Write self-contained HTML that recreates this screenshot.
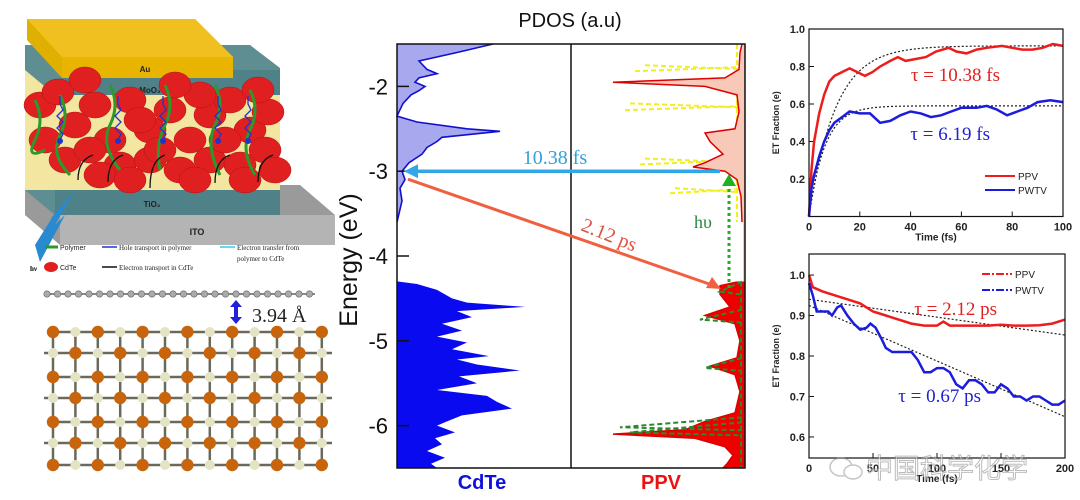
<!DOCTYPE html>
<html><head><meta charset="utf-8"><style>
body{margin:0;background:#fff;width:1080px;height:500px;overflow:hidden}
svg{display:block}
text{font-family:"Liberation Sans",sans-serif}
.serif{font-family:"Liberation Serif",serif}
</style></head><body>
<svg id="s" width="1080" height="500" viewBox="0 0 1080 500">
<g id="left">
 <polygon points="25,185 300,185 335,215 335,245 60,245 25,215" fill="#9a9a9a"/>
 <polygon points="60,215 335,215 335,245 60,245" fill="#b4b4b4"/>
 <text x="197" y="235" font-size="9" font-weight="bold" text-anchor="middle" fill="#222">ITO</text>
 <polygon points="25,160 250,160 280,185 280,215 55,215 25,190" fill="#5f8e92"/>
 <rect x="55" y="185" width="225" height="30" fill="#4f8288"/>
 <text x="152" y="207" font-size="8" font-weight="bold" text-anchor="middle" fill="#222">TiO₂</text>
 <polygon points="25,45 250,45 280,68 280,190 25,190" fill="#f2e6a0"/>
 <polygon points="25,45 250,45 280,68 280,95 55,95 25,70" fill="#5f8e92"/>
 <rect x="60" y="70" width="220" height="25" fill="#4f8288"/>
 <text x="150" y="93" font-size="8" font-weight="bold" text-anchor="middle" fill="#222">MoO₃</text>
 <polygon points="27,19 195,19 233,57 233,78 62,78 27,40" fill="#e0b000"/>
 <polygon points="27,19 195,19 233,57 62,57" fill="#f0c020"/>
 <rect x="62" y="57" width="171" height="21" fill="#e8b400"/>
 <text x="145" y="72" font-size="8" font-weight="bold" text-anchor="middle" fill="#222">Au</text>
 <g id="blobs"></g>
 <polygon points="35,245 60,205 50,220 75,190 55,225 65,215 40,262" fill="#2a8ad0"/>
 <text x="30" y="271" font-size="7" class="serif" font-weight="bold">hν</text>
 <line x1="45" y1="247" x2="58" y2="247" stroke="#2a9a2a" stroke-width="3"/>
 <text x="60" y="250" font-size="7" fill="#222">Polymer</text>
 <line x1="102" y1="247" x2="117" y2="247" stroke="#2233cc" stroke-width="1.5"/>
 <text x="119" y="250" font-size="7" class="serif" fill="#222">Hole transport in polymer</text>
 <line x1="220" y1="247" x2="235" y2="247" stroke="#33ccee" stroke-width="1.5"/>
 <text x="237" y="250" font-size="7" class="serif" fill="#222">Electron transfer from</text>
 <text x="237" y="261" font-size="7" class="serif" fill="#222">polymer to CdTe</text>
 <ellipse cx="51" cy="267" rx="7" ry="5" fill="#e02020"/>
 <text x="60" y="270" font-size="7" fill="#222">CdTe</text>
 <line x1="102" y1="267" x2="117" y2="267" stroke="#111" stroke-width="1.5"/>
 <text x="119" y="270" font-size="7" class="serif" fill="#222">Electron  transport in CdTe</text>
</g>
<g id="lattice"></g>
<line x1="45" y1="294" x2="315" y2="294" stroke="#888" stroke-width="2"/>
<g id="mol"></g>
<path d="M236,300 l-6,7 h4 v10 h-4 l6,7 l6,-7 h-4 v-10 h4z" fill="#2020dd"/>
<text x="252" y="322" font-size="20" class="serif" fill="#222">3.94 Å</text>

<g id="pdos"></g>
<g id="c1"></g>
<g id="c2"></g>
<g opacity="0.55">
 <ellipse cx="841" cy="467" rx="11" ry="9" fill="none" stroke="#999" stroke-width="1.5"/>
 <ellipse cx="853" cy="472" rx="9" ry="7" fill="#fff" stroke="#999" stroke-width="1.5"/>
 <text x="866" y="478" font-size="27" fill="#fff" stroke="#888" stroke-width="1" style='font-family:"Liberation Sans","Noto Sans CJK SC",sans-serif'>中国科学化学</text>
</g>
</svg>
<script>
const NS="http://www.w3.org/2000/svg";
function mk(p,t,a){const e=document.createElementNS(NS,t);for(const k in a)e.setAttribute(k,a[k]);p.appendChild(e);return e;}
// blobs
const blobG=document.getElementById('blobs');
[[40,105],[58,92],[75,125],[95,105],[110,140],[130,100],[150,130],[170,110],[190,140],[210,115],[230,100],[250,130],[268,112],[65,160],[90,150],[120,165],[150,160],[180,170],[210,160],[240,165],[265,150],[140,120],[200,95],[85,80],[175,85],[258,90],[45,140],[100,175],[160,150],[225,140],[275,170],[130,180],[195,180],[245,180]].forEach(p=>{mk(blobG,'ellipse',{cx:p[0],cy:p[1],rx:16,ry:13,fill:'#e02020',stroke:'#b01010','stroke-width':0.5});});
[[60,95,70,175],[110,85,120,170],[165,85,160,170],[215,85,220,175],[250,90,255,175],[35,100,45,150]].forEach(l=>{mk(blobG,'path',{d:`M${l[0]},${l[1]} q10,20 0,40 q-10,20 ${l[2]-l[0]},${l[3]-l[1]-40}`,fill:'none',stroke:'#2a9a2a','stroke-width':3});});
[60,118,163,218,248].forEach(x=>{mk(blobG,'path',{d:`M${x},140 l3,-6 l-6,-6 l6,-6 l-6,-6 l6,-6 l-3,-6 l0,-8`,fill:'none',stroke:'#2233cc','stroke-width':1.3});mk(blobG,'circle',{cx:x,cy:141,r:3,fill:'#2233cc'});});
[[78,180],[108,182],[150,188],[215,183],[258,182]].forEach(p=>{mk(blobG,'path',{d:`M${p[0]+15},155 q-15,5 ${-15},${p[1]-155}`,fill:'none',stroke:'#111','stroke-width':1.3});});
// lattice
const lat=document.getElementById('lattice');
const rowsY=[332,353,377,398,422,443,465];
for(let r=0;r<7;r++)mk(lat,'line',{x1:r%2?44:53,y1:rowsY[r],x2:r%2?332:322,y2:rowsY[r],stroke:'#6a6a5a','stroke-width':2.5});
for(let c=0;c<13;c++){const x=53+c*22.4;mk(lat,'line',{x1:x,y1:332,x2:x,y2:465,stroke:'#6a6a5a','stroke-width':2.5});}
for(let r=0;r<7;r++)for(let c=0;c<13;c++){const x=53+c*22.4;const orange=((r+c)%2===0);
 mk(lat,'circle',{cx:x,cy:rowsY[r],r:orange?6.2:5,fill:orange?'#c8650c':'#e4e4c4'});}
const mol=document.getElementById('mol');
for(let i=0;i<26;i++)mk(mol,'circle',{cx:47+i*10.5,cy:294,r:3.2,fill:'#aaa',stroke:'#666','stroke-width':0.6});

// ---------- PDOS ----------
const cdteTopE=[-1.5,-1.6,-1.7,-1.8,-1.85,-1.9,-1.95,-2.0,-2.05,-2.1,-2.2,-2.3,-2.35,-2.42,-2.5,-2.53,-2.6,-2.65,-2.72,-2.8,-2.9,-3.0,-3.1,-3.2,-3.35,-3.5,-3.6];
const cdteTopW=[96,60,22,30,40,22,18,28,22,14,6,2,0,20,70,103,45,40,30,25,12,5,8,3,5,2,0];
const cdteBotE=[-4.3,-4.33,-4.4,-4.5,-4.55,-4.6,-4.65,-4.72,-4.8,-4.88,-4.95,-5.02,-5.1,-5.18,-5.22,-5.28,-5.35,-5.42,-5.5,-5.58,-5.65,-5.72,-5.8,-5.88,-5.95,-6.0,-6.08,-6.15,-6.22,-6.3,-6.38,-6.45,-6.5];
const cdteBotW=[0,20,40,55,70,128,60,75,45,65,40,70,55,92,60,80,123,62,80,40,90,100,115,65,50,40,58,38,45,30,48,34,40];
const ppvE=[-1.5,-1.6,-1.8,-1.9,-1.95,-2.0,-2.1,-2.3,-2.5,-2.55,-2.65,-2.8,-2.9,-2.95,-3.0,-3.1,-3.3,-3.6,-4.3,-4.35,-4.45,-4.6,-4.7,-4.8,-5.0,-5.2,-5.3,-5.4,-5.6,-5.85,-5.95,-6.05,-6.1,-6.15,-6.25,-6.35,-6.45,-6.5];
const ppvW=[3,5,6,20,132,40,8,6,10,40,35,22,40,52,20,8,4,3,5,25,25,15,40,10,5,8,35,10,5,10,40,60,132,50,20,12,18,22];
const yelE=[-1.75,-1.82,-2.2,-2.28,-2.85,-2.92,-3.2,-3.26];
const yelW=[100,110,115,120,100,105,70,75];
const grnE=[-4.42,-4.75,-5.32,-6.02,-6.08];
const grnW=[25,45,40,125,115];
const pdosTicks=[-2,-3,-4,-5,-6];
(function(){
 const g=document.getElementById('pdos');
 const L=397,R=745,M=571,T=44,B=468,E0=-1.5,E1=-6.5;
 const Y=e=>T+(E0-e)/(E0-E1)*(B-T);
 const XL=w=>L+w, XR=w=>R-w;
 function path(E,W,X){return E.map((e,i)=>`${i?'L':'M'}${X(W[i]).toFixed(1)},${Y(e).toFixed(1)}`).join('');}
 const t=mk(g,'text',{x:570,y:27,'font-size':20,'text-anchor':'middle',fill:'#111'});t.textContent='PDOS (a.u)';
 
 let d=path(cdteTopE,cdteTopW,XL);
 mk(g,'path',{d:d+`L${L},${Y(cdteTopE[cdteTopE.length-1])}L${L},${T}Z`,fill:'#a8a8ee'});
 const cl=mk(g,'path',{d:d,fill:'none',stroke:'#1010d0','stroke-width':1.6});
 
 d=path(cdteBotE,cdteBotW,XL);
 const cb=mk(g,'path',{d:`M${L},${Y(cdteBotE[0])}`+d.replace('M','L')+`L${L},${B}Z`,fill:'#0a0af0'});
 
 yelE.forEach((e,i)=>{const l=mk(g,'line',{x1:XR(yelW[i]),y1:Y(e),x2:R-6,y2:Y(e)+(i%2?-4:4),stroke:'#f0f020','stroke-width':2,'stroke-dasharray':'5,3'});
  });
 mk(g,'line',{x1:R-8,y1:T,x2:R-8,y2:Y(-3.6),stroke:'#f0f020','stroke-width':2,'stroke-dasharray':'5,3'});
 d=path(ppvE,ppvW,XR);
 mk(g,'path',{d:`M${R},${T}`+d.replace('M','L')+`L${R},${B}Z`,fill:'#f8c8b8'});
 const vi=ppvE.findIndex(e=>e<=-4.3);
 const dv=path(ppvE.slice(vi),ppvW.slice(vi),XR);
 mk(g,'path',{d:`M${R},${Y(-4.3)}`+dv.replace('M','L')+`L${R},${B}Z`,fill:'#ee0000'});
 const pl=mk(g,'path',{d:d,fill:'none',stroke:'#dd0000','stroke-width':1.5});
 
 mk(g,'rect',{x:R-60,y:Y(-3.6),width:58,height:Y(-4.3)-Y(-3.6),fill:'#fff'});
 grnE.forEach((e,i)=>{const l=mk(g,'path',{d:`M${R-3},${Y(e)-10}L${XR(grnW[i])},${Y(e)}L${R-3},${Y(e)+3}`,fill:'none',stroke:'#2a8a2a','stroke-width':2,'stroke-dasharray':'5,3'});
  });
 mk(g,'line',{x1:R-4,y1:Y(-4.3),x2:R-4,y2:B,stroke:'#2a8a2a','stroke-width':2,'stroke-dasharray':'5,3'});
 mk(g,'rect',{x:L,y:T,width:R-L,height:B-T,fill:'none',stroke:'#111','stroke-width':1.5});
 mk(g,'line',{x1:M,y1:T,x2:M,y2:B,stroke:'#111','stroke-width':1.5});
 pdosTicks.forEach(v=>{mk(g,'line',{x1:L,y1:Y(v),x2:L+12,y2:Y(v),stroke:'#111','stroke-width':1.5});
  const tx=mk(g,'text',{x:388,y:Y(v)+8,'font-size':22,'text-anchor':'end',fill:'#111'});tx.textContent=v;
  });
 const yt=mk(g,'text',{x:0,y:0,'font-size':25,'text-anchor':'middle',fill:'#111',transform:'translate(357,260) rotate(-90)'});yt.textContent='Energy (eV)';
 
 const c1=mk(g,'text',{x:482,y:489,'font-size':20,'font-weight':'bold','text-anchor':'middle',fill:'#1010dd'});c1.textContent='CdTe';
 
 const c2=mk(g,'text',{x:661,y:489,'font-size':20,'font-weight':'bold','text-anchor':'middle',fill:'#ee1111'});c2.textContent='PPV';
 
 const ya=Y(-3.0);
 mk(g,'line',{x1:720,y1:ya,x2:412,y2:ya,stroke:'#30a8e8','stroke-width':3.5});
 mk(g,'path',{d:`M404,${ya}l14,-7v14z`,fill:'#30a8e8'});
 const a1=mk(g,'text',{x:555,y:ya-7,'font-size':20,'text-anchor':'middle',fill:'#30a0e0',class:'serif'});a1.textContent='10.38 fs';
 
 mk(g,'line',{x1:408,y1:ya+8,x2:712,y2:285,stroke:'#f06040','stroke-width':3});
 mk(g,'path',{d:'M721,289l-15,-1l6,-11z',fill:'#f06040'});
 const a2=mk(g,'text',{x:0,y:0,'font-size':20,'fill':'#e05040',class:'serif',transform:'translate(580,230) rotate(22)'});a2.textContent='2.12 ps';
 
 mk(g,'line',{x1:729,y1:288,x2:729,y2:186,stroke:'#20b020','stroke-width':3,'stroke-dasharray':'3,3'});
 mk(g,'path',{d:'M729,174l-7,12h14z',fill:'#20b020'});
 const hv=mk(g,'text',{x:694,y:228,'font-size':18,fill:'#208a40',class:'serif'});hv.textContent='hυ';
 
})();

// ---------- ET charts ----------
const t1=[0,1,2,4,6,8,10,13,16,19,22,25,28,32,35,38,42,46,50,55,58,62,66,70,76,80,84,88,92,96,100];
const ppv1=[0,0.25,0.4,0.55,0.65,0.72,0.75,0.77,0.79,0.77,0.75,0.77,0.8,0.83,0.85,0.83,0.84,0.85,0.88,0.9,0.88,0.87,0.89,0.9,0.91,0.9,0.89,0.89,0.9,0.92,0.91];
const t1b=[0,1,2,4,6,8,10,13,16,20,24,28,32,36,40,44,48,52,56,60,66,70,74,78,82,86,90,95,100];
const pwtv1=[0,0.15,0.22,0.32,0.4,0.46,0.5,0.53,0.56,0.55,0.55,0.5,0.51,0.54,0.56,0.55,0.53,0.54,0.56,0.58,0.58,0.59,0.57,0.54,0.56,0.58,0.61,0.62,0.61];
const fitAmp1=[0.91,0.59];
const fitTau1=[10.38,6.19];
const t2=[0,3,10,20,30,40,50,60,70,80,90,100,105,110,120,130,140,150,160,170,180,190,200];
const ppv2=[1.0,0.97,0.96,0.95,0.94,0.93,0.91,0.9,0.89,0.88,0.875,0.875,0.885,0.875,0.875,0.875,0.875,0.877,0.875,0.875,0.876,0.88,0.89];
const t2b=[0,3,6,15,18,22,25,30,35,40,45,48,52,57,60,65,70,80,85,90,95,100,105,110,115,120,125,130,135,140,145,150,155,160,165,170,175,180,185,190,195,200];
const pwtv2=[0.98,0.95,0.91,0.91,0.9,0.92,0.925,0.9,0.88,0.865,0.87,0.88,0.87,0.84,0.82,0.81,0.81,0.81,0.79,0.76,0.76,0.77,0.77,0.76,0.73,0.72,0.74,0.74,0.73,0.71,0.71,0.73,0.72,0.7,0.7,0.69,0.7,0.7,0.69,0.68,0.68,0.69];
const fitStart2=[0.94,0.925];
const fitEnd2=[0.852,0.65];
const xt1=[0,20,40,60,80,100],yt1=[0.2,0.4,0.6,0.8,1.0];
const xt2=[0,50,100,150,200],yt2=[0.6,0.7,0.8,0.9,1.0];
function chart(id,box,xr,yr,xt,yt,xlab){
 const g=document.getElementById(id);
 const X=v=>box.l+(v-xr[0])/(xr[1]-xr[0])*(box.r-box.l);
 const Y=v=>box.b-(v-yr[0])/(yr[1]-yr[0])*(box.b-box.t);
 xt.forEach(v=>{mk(g,'line',{x1:X(v),y1:box.b,x2:X(v),y2:box.b-5,stroke:'#111'});
  const t=mk(g,'text',{x:X(v),y:box.b+14,'font-size':11,'font-weight':'bold','text-anchor':'middle',fill:'#222'});t.textContent=v;
  });
 yt.forEach(v=>{mk(g,'line',{x1:box.l,y1:Y(v),x2:box.l+5,y2:Y(v),stroke:'#111'});
  const t=mk(g,'text',{x:box.l-4,y:Y(v)+4,'font-size':11,'font-weight':'bold','text-anchor':'end',fill:'#222'});t.textContent=v.toFixed(1);
  });
 const xl=mk(g,'text',{x:(box.l+box.r)/2,y:box.b+24,'font-size':10,'font-weight':'bold','text-anchor':'middle',fill:'#222'});xl.textContent=xlab;
 
 const yl=mk(g,'text',{x:0,y:0,'font-size':9,'font-weight':'bold','text-anchor':'middle',fill:'#222',transform:`translate(${box.l-30},${(box.t+box.b)/2}) rotate(-90)`});yl.textContent='ET Fraction (e)';
 
 return {g,X,Y};
}
function line(c,xs,ys,col,name,dash){const p=mk(c.g,'path',{d:xs.map((x,i)=>`${i?'L':'M'}${c.X(x).toFixed(1)},${c.Y(ys[i]).toFixed(1)}`).join(''),fill:'none',stroke:col,'stroke-width':dash?1.2:2.5});
 if(dash)p.setAttribute('stroke-dasharray','2,2');
 return p;}
(function(){
 const c=chart('c1',{l:809,r:1063,t:29,b:216.5},[0,100],[0,1.0],xt1,yt1,'Time (fs)');
 for(let k=0;k<2;k++){const xs=[],ys=[];for(let t=0;t<=100;t+=1){xs.push(t);ys.push(fitAmp1[k]*(1-Math.exp(-t/fitTau1[k])));}line(c,xs,ys,'#222','fit-curve',true);}
 line(c,t1,ppv1,'#ee1c1c','ppv-series');line(c,t1b,pwtv1,'#1c1cdd','pwtv-series');
 mk(c.g,'rect',{x:809,y:29,width:254,height:187.5,fill:'none',stroke:'#111','stroke-width':1.2});
 let t=mk(c.g,'text',{x:1000,y:81,'font-size':19,'text-anchor':'end',fill:'#dd2222',class:'serif'});t.textContent='τ = 10.38 fs';
 
 t=mk(c.g,'text',{x:990,y:140,'font-size':19,'text-anchor':'end',fill:'#2222cc',class:'serif'});t.textContent='τ = 6.19 fs';
 
 [['PPV','#ee1c1c',176],['PWTV','#1c1cdd',190]].forEach(e=>{mk(c.g,'line',{x1:985,y1:e[2],x2:1015,y2:e[2],stroke:e[1],'stroke-width':2});
  const l=mk(c.g,'text',{x:1018,y:e[2]+4,'font-size':10,fill:'#222'});l.textContent=e[0];});
})();
(function(){
 const c=chart('c2',{l:809,r:1065,t:254,b:458},[0,200],[0.548,1.052],xt2,yt2,'Time (fs)');
 for(let k=0;k<2;k++)line(c,[0,200],[fitStart2[k],fitEnd2[k]],'#222','fit-line',true);
 line(c,t2,ppv2,'#ee1c1c','ppv-series');line(c,t2b,pwtv2,'#1c1cdd','pwtv-series');
 mk(c.g,'rect',{x:809,y:254,width:256,height:204,fill:'none',stroke:'#111','stroke-width':1.2});
 let t=mk(c.g,'text',{x:997,y:315,'font-size':19,'text-anchor':'end',fill:'#dd2222',class:'serif'});t.textContent='τ = 2.12 ps';
 
 t=mk(c.g,'text',{x:981,y:402,'font-size':19,'text-anchor':'end',fill:'#2222cc',class:'serif'});t.textContent='τ = 0.67 ps';
 
 [['PPV','#ee1c1c',274],['PWTV','#1c1cdd',290]].forEach(e=>{mk(c.g,'line',{x1:982,y1:e[2],x2:1012,y2:e[2],stroke:e[1],'stroke-width':2,'stroke-dasharray':'8,2,2,2'});
  const l=mk(c.g,'text',{x:1015,y:e[2]+4,'font-size':10,fill:'#222'});l.textContent=e[0];});
})();
</script>
</body></html>
